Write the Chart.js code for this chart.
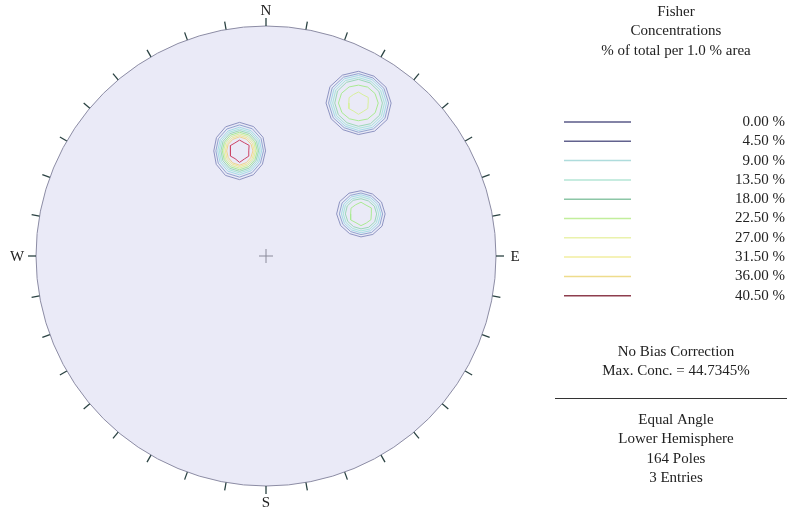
<!DOCTYPE html>
<html>
<head>
<meta charset="utf-8">
<script src="https://cdn.jsdelivr.net/npm/chart.js@4/dist/chart.umd.min.js"></script>
<style>
  html, body { margin: 0; padding: 0; background: #fff; }
  canvas { display: block; }
</style>
</head>
<body>
<canvas id="chart" width="787" height="511"></canvas>
<script>
// contour levels (% of total per 1.0 % area)
const levels = [0, 4.5, 9, 13.5, 18, 22.5, 27, 31.5, 36, 40.5];
const levelColors = ['#5a5a88', '#62628e', '#aedcdc', '#b4e6d6', '#8cc6a6',
                     '#c2ee9c', '#eaf2ac', '#f2eea0', '#eedc8c', '#8e3e4e'];
// thin contour lines on the net render paler than the legend swatches
const ringColors = ['#8e94c2', '#93a6d0', '#a6dce6', '#a8e6dc', '#9cd8b8',
                    '#aaea92', '#d8f09c', '#f0ea96', '#f0d48e', '#cc4466'];

// vertex directions of every contour (degrees, counter-clockwise from E)
const vertexAngles = [0, 30, 60, 90, 120, 150, 180, 210, 240, 270, 300, 330];

// pole cluster centres, in net radius units (x = E, y = N)
const clusterCenters = [[-0.115, 0.457], [0.402, 0.665], [0.413, 0.183]];

// contour radii for each cluster, one row per level, outermost first
const cluster1Radii = [
  [0.113, 0.118, 0.122, 0.124, 0.121, 0.116, 0.112, 0.117, 0.123, 0.125, 0.120, 0.115],
  [0.104, 0.108, 0.111, 0.113, 0.110, 0.106, 0.103, 0.107, 0.112, 0.114, 0.109, 0.105],
  [0.096, 0.099, 0.101, 0.103, 0.100, 0.097, 0.095, 0.098, 0.102, 0.104, 0.100, 0.097],
  [0.089, 0.092, 0.094, 0.095, 0.093, 0.090, 0.088, 0.091, 0.094, 0.096, 0.093, 0.090],
  [0.083, 0.085, 0.087, 0.088, 0.086, 0.083, 0.081, 0.084, 0.087, 0.089, 0.086, 0.083],
  [0.077, 0.078, 0.080, 0.081, 0.079, 0.076, 0.075, 0.077, 0.080, 0.082, 0.079, 0.077],
  [0.070, 0.072, 0.073, 0.074, 0.072, 0.070, 0.069, 0.071, 0.073, 0.075, 0.072, 0.070],
  [0.064, 0.065, 0.066, 0.067, 0.065, 0.063, 0.062, 0.064, 0.066, 0.068, 0.066, 0.064],
  [0.058, 0.058, 0.059, 0.061, 0.058, 0.057, 0.056, 0.057, 0.060, 0.062, 0.059, 0.057],
  [0.040, 0.048, 0.041, 0.047, 0.040, 0.046, 0.040, 0.045, 0.039, 0.050, 0.041, 0.046]
];
const cluster2Radii = [
  [0.142, 0.138, 0.135, 0.138, 0.140, 0.143, 0.141, 0.137, 0.134, 0.137, 0.141, 0.144],
  [0.131, 0.128, 0.126, 0.128, 0.130, 0.132, 0.130, 0.127, 0.124, 0.127, 0.130, 0.133],
  [0.122, 0.120, 0.118, 0.120, 0.122, 0.123, 0.121, 0.118, 0.116, 0.119, 0.122, 0.124],
  [0.113, 0.111, 0.109, 0.111, 0.113, 0.114, 0.112, 0.110, 0.108, 0.110, 0.113, 0.115],
  [0.104, 0.102, 0.101, 0.103, 0.104, 0.105, 0.103, 0.101, 0.099, 0.101, 0.104, 0.106],
  [0.086, 0.083, 0.080, 0.078, 0.081, 0.085, 0.087, 0.083, 0.079, 0.077, 0.080, 0.084],
  [0.042, 0.049, 0.041, 0.048, 0.043, 0.047, 0.042, 0.048, 0.041, 0.049, 0.042, 0.047]
];
const cluster3Radii = [
  [0.105, 0.103, 0.100, 0.101, 0.104, 0.107, 0.106, 0.102, 0.099, 0.100, 0.103, 0.106],
  [0.094, 0.092, 0.090, 0.091, 0.093, 0.095, 0.094, 0.091, 0.089, 0.090, 0.093, 0.095],
  [0.086, 0.084, 0.082, 0.083, 0.085, 0.086, 0.085, 0.083, 0.081, 0.082, 0.084, 0.086],
  [0.077, 0.075, 0.074, 0.075, 0.076, 0.078, 0.077, 0.075, 0.073, 0.074, 0.076, 0.077],
  [0.068, 0.067, 0.065, 0.066, 0.068, 0.069, 0.068, 0.066, 0.064, 0.065, 0.067, 0.069],
  [0.045, 0.052, 0.044, 0.051, 0.046, 0.050, 0.045, 0.052, 0.044, 0.051, 0.046, 0.050]
];
const clusterRadii = [cluster1Radii, cluster2Radii, cluster3Radii];

// net decoration
const tickAzimuths = [0, 10, 20, 30, 40, 50, 60, 70, 80, 90, 100, 110, 120, 130, 140, 150, 160, 170,
                      180, 190, 200, 210, 220, 230, 240, 250, 260, 270, 280, 290, 300, 310, 320, 330, 340, 350];
const compassLabels = ['N', 'E', 'S', 'W'];

const headerLines = ['Fisher', 'Concentrations', '% of total per 1.0 % area'];
const statsLines = ['No Bias Correction', 'Max. Conc. = 44.7345%'];
const infoLines = ['Equal Angle', 'Lower Hemisphere', '164 Poles', '3 Entries'];

// build one closed line dataset per contour ring
const datasets = [];
clusterRadii.forEach((rings, c) => {
  const [cx, cy] = clusterCenters[c];
  rings.forEach((radii, lvl) => {
    const pts = vertexAngles.map((a, i) => ({
      x: cx + radii[i] * Math.cos(a * Math.PI / 180),
      y: cy + radii[i] * Math.sin(a * Math.PI / 180)
    }));
    pts.push(pts[0]);
    datasets.push({
      label: levels[lvl].toFixed(2) + ' %',
      data: pts,
      showLine: true,
      borderColor: ringColors[lvl],
      borderWidth: 1,
      pointRadius: 0,
      tension: 0,
      fill: false
    });
  });
});

const FONT = '15px "Liberation Serif", "DejaVu Serif", serif';

const netPlugin = {
  id: 'net',
  beforeDatasetsDraw(chart) {
    const { ctx, scales: { x, y } } = chart;
    const cx = x.getPixelForValue(0), cy = y.getPixelForValue(0);
    const r = x.getPixelForValue(1) - cx;
    ctx.save();
    ctx.beginPath();
    ctx.arc(cx, cy, r, 0, Math.PI * 2);
    ctx.fillStyle = '#eaeaf7';
    ctx.fill();
    ctx.strokeStyle = '#8c8ca4';
    ctx.lineWidth = 1;
    ctx.stroke();

    // ticks
    ctx.strokeStyle = '#2a4242';
    ctx.lineWidth = 1.3;
    tickAzimuths.forEach(az => {
      const t = az * Math.PI / 180;
      const sx = Math.sin(t), sy = -Math.cos(t);
      ctx.beginPath();
      ctx.moveTo(cx + sx * r, cy + sy * r);
      ctx.lineTo(cx + sx * (r + 8), cy + sy * (r + 8));
      ctx.stroke();
    });

    // compass letters
    ctx.fillStyle = '#222';
    ctx.font = FONT;
    ctx.textAlign = 'center';
    ctx.textBaseline = 'middle';
    compassLabels.forEach((lab, i) => {
      const t = i * Math.PI / 2;
      const d = r + (i % 2 ? 19 : 16);
      ctx.fillText(lab, cx + Math.sin(t) * d, cy - Math.cos(t) * d + 1);
    });

    // centre cross
    ctx.strokeStyle = '#8a8a9a';
    ctx.lineWidth = 1;
    ctx.beginPath();
    ctx.moveTo(cx - 7, cy); ctx.lineTo(cx + 7, cy);
    ctx.moveTo(cx, cy - 7); ctx.lineTo(cx, cy + 7);
    ctx.stroke();
    ctx.restore();
  },
  afterDraw(chart) {
    const { ctx } = chart;
    ctx.save();
    ctx.font = FONT;
    ctx.fillStyle = '#222';
    ctx.textBaseline = 'middle';
    ctx.textAlign = 'center';
    headerLines.forEach((t, i) => ctx.fillText(t, 676, 12 + i * 19.5));

    levels.forEach((lv, i) => {
      const ly = 122 + i * 19.3;
      ctx.strokeStyle = levelColors[i];
      ctx.lineWidth = 1.5;
      ctx.beginPath();
      ctx.moveTo(564, ly); ctx.lineTo(631, ly);
      ctx.stroke();
      ctx.textAlign = 'right';
      ctx.fillText(lv.toFixed(2) + ' %', 785, ly);
    });

    ctx.textAlign = 'center';
    statsLines.forEach((t, i) => ctx.fillText(t, 676, 352 + i * 19));

    ctx.strokeStyle = '#333';
    ctx.lineWidth = 1;
    ctx.beginPath();
    ctx.moveTo(555, 398.5); ctx.lineTo(787, 398.5);
    ctx.stroke();

    infoLines.forEach((t, i) => ctx.fillText(t, 676, 420 + i * 19.3));
    ctx.restore();
  }
};

new Chart(document.getElementById('chart'), {
  type: 'scatter',
  data: { datasets },
  options: {
    responsive: false,
    devicePixelRatio: 1,
    animation: false,
    layout: { padding: { left: 36, right: 291, top: 26, bottom: 25 } },
    scales: {
      x: { type: 'linear', min: -1, max: 1, display: false },
      y: { type: 'linear', min: -1, max: 1, display: false }
    },
    plugins: { legend: { display: false }, tooltip: { enabled: false } }
  },
  plugins: [netPlugin]
});
</script>
</body>
</html>
